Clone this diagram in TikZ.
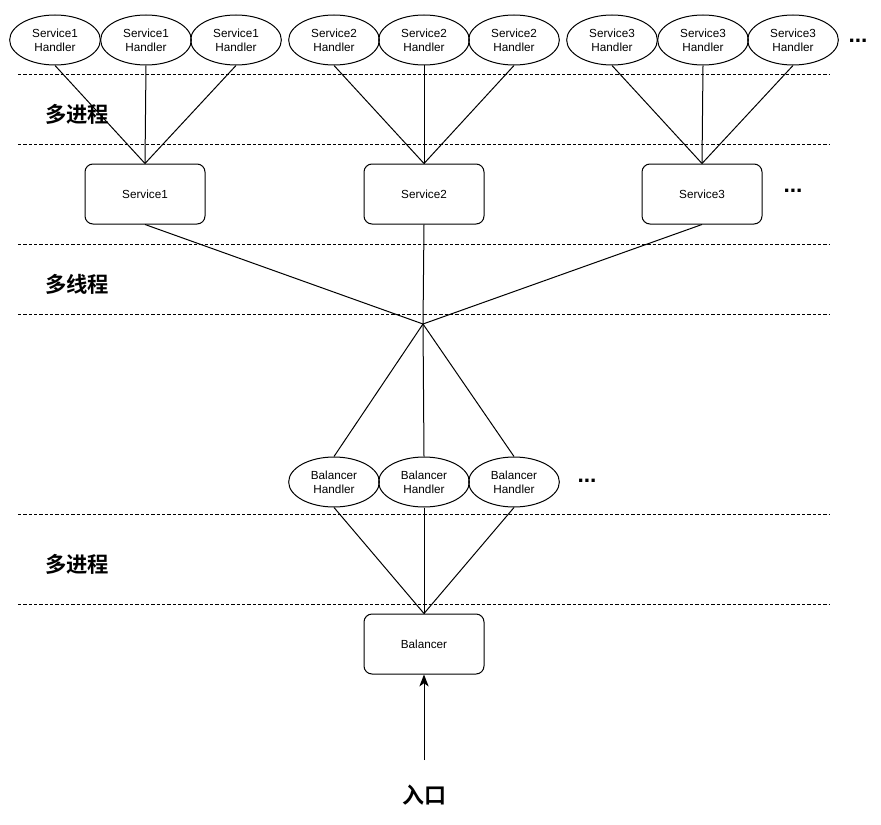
\documentclass[tikz,border=0pt]{standalone}
\usepackage{fontspec}
\setmainfont{Liberation Sans}
\newfontfamily\cjk{Noto Sans CJK SC}[BoldFont={Noto Sans CJK SC Bold}]
\usetikzlibrary{arrows.meta,positioning,shapes.geometric}
\tikzset{
  >={Stealth[length=9pt,width=7pt,inset=2.5pt]},
  hnd/.style={draw,ellipse,line width=0.75pt,inner sep=0pt,minimum width=68pt,minimum height=37.5pt,font=\fontsize{8.8}{10.5}\selectfont,align=center},
  srv/.style={draw,rounded corners=6pt,line width=0.75pt,minimum width=90pt,minimum height=45pt,font=\fontsize{8.8}{10.5}\selectfont},
  sep/.style={dashed,dash pattern=on 2.4pt off 1.6pt,line width=0.7pt},
  lyr/.style={anchor=west,inner sep=0pt,font=\cjk\bfseries\fontsize{16}{18}\selectfont},
  dots/.style={inner sep=0pt,font=\bfseries\fontsize{17}{18}\selectfont},
  ln/.style={line width=0.75pt},
}
\begin{document}
\begin{tikzpicture}[x=0.75pt,y=-0.75pt]
\useasboundingbox (0,0) rectangle (881,824);
% layer separators
\foreach \yy in {74,144,244,314,514,604}
  \draw[sep] (18,\yy) -- (830,\yy);
\node[lyr] (mp1) at (45,114) {多进程};
\node[lyr] (mt) at (45,284) {多线程};
\node[lyr] (mp2) at (45,564) {多进程};
% services and their handlers
\node[srv] (s1) at (145,194) {Service1};
\node[srv] (s2) at (424,194) {Service2};
\node[srv] (s3) at (702,194) {Service3};
\node[dots] (sdots) at (793,191) {...};
\foreach \s/\xa/\xb/\xc in {1/55/146/236,2/334/424/514,3/612/703/793}{
  \node[hnd] (s\s h1) at (\xa,40) {Service\s\\Handler};
  \node[hnd] (s\s h2) at (\xb,40) {Service\s\\Handler};
  \node[hnd] (s\s h3) at (\xc,40) {Service\s\\Handler};
  \foreach \i in {1,2,3}
    \draw[ln] (s\s h\i.south) -- (s\s.north);
}
\node[dots] (hdots) at (858,41) {...};
% balancer side
\coordinate (hub) at (423,324);
\foreach \s in {1,2,3}
  \draw[ln] (s\s.south) -- (hub);
\node[hnd] (bh1) at (334,482) {Balancer\\Handler};
\node[hnd] (bh2) at (424,482) {Balancer\\Handler};
\node[hnd] (bh3) at (514,482) {Balancer\\Handler};
\node[dots] (bdots) at (587,481) {...};
\node[srv] (bal) at (424,644) {Balancer};
\foreach \i in {1,2,3}{
  \draw[ln] (hub) -- (bh\i.north);
  \draw[ln] (bh\i.south) -- (bal.north);
}
\node[inner sep=0pt,font=\cjk\bfseries\fontsize{16.5}{18}\selectfont] (entry) at (424,795) {入口};
\coordinate (entrytop) at (424,760);
\draw[->,ln] (entrytop) -- (bal.south);
\end{tikzpicture}
\end{document}
